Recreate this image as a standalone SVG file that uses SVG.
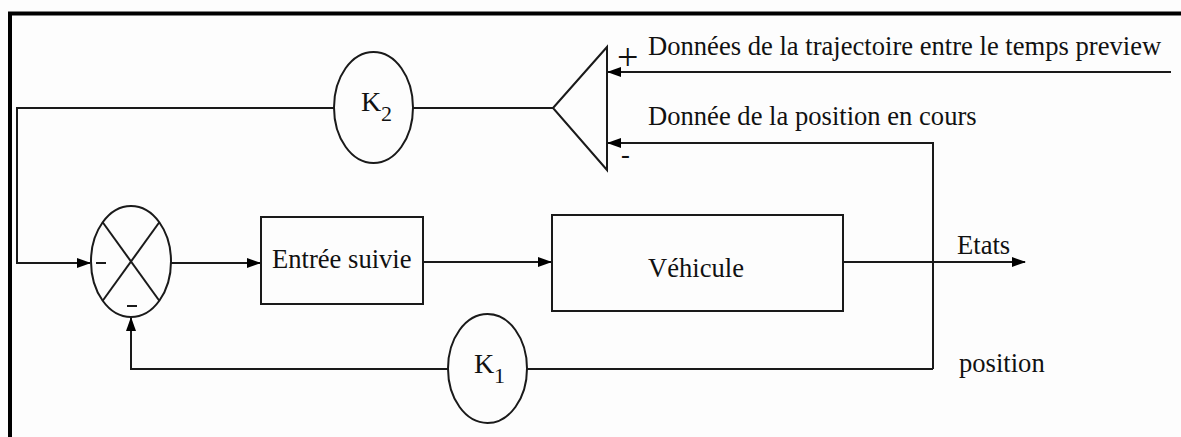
<svg xmlns="http://www.w3.org/2000/svg" width="1181" height="437" viewBox="0 0 1181 437">
<style>
.ln{fill:none;stroke:#1a1a1a;stroke-width:2}
.sh{fill:#fdfdfd;stroke:#1a1a1a;stroke-width:2}
.t{font-family:"Liberation Serif","Times New Roman",serif;font-size:26.6px;fill:#111}
.k{font-family:"Liberation Serif","Times New Roman",serif;font-size:28px;fill:#111}
.s{font-family:"Liberation Serif","Times New Roman",serif;font-size:22px;fill:#111}
</style>
<defs>
<marker id="ah" markerWidth="14" markerHeight="10" refX="13" refY="5" orient="auto" markerUnits="userSpaceOnUse">
<path d="M0,0 L14,5 L0,10 Z" fill="#000"/>
</marker>
</defs>
<rect width="1181" height="437" fill="#fdfdfd"/>
<g id="frame">
<line x1="8" y1="13.5" x2="1181" y2="13.5" stroke="#000" stroke-width="4"/>
<line x1="10" y1="12" x2="10" y2="437" stroke="#000" stroke-width="4"/>
</g>
<g id="connectors">
<polyline class="ln" points="334,108 17,108 17,263 90,263" marker-end="url(#ah)"/>
<line class="ln" x1="413" y1="108" x2="553" y2="108"/>
<line class="ln" x1="1171" y1="72" x2="608" y2="72" marker-end="url(#ah)"/>
<polyline class="ln" points="843,262 933,262 1025,262" marker-end="url(#ah)"/>
<polyline class="ln" points="933,369 933,143 608,143" marker-end="url(#ah)"/>
<line class="ln" x1="171" y1="263" x2="260" y2="263" marker-end="url(#ah)"/>
<line class="ln" x1="423" y1="262" x2="551" y2="262" marker-end="url(#ah)"/>
<line class="ln" x1="933" y1="369" x2="527" y2="369"/>
<polyline class="ln" points="448,369 131,369 131,318" marker-end="url(#ah)"/>
</g>
<g id="k2">
<ellipse class="sh" cx="373.5" cy="107.5" rx="39.5" ry="55.5"/>
<text class="k" x="361" y="111">K</text><text class="s" x="381" y="121">2</text>
</g>
<g id="comparator">
<polygon class="sh" points="553,108 607,47 607,170"/>
<text class="t" x="617" y="70" style="font-size:38px">+</text>
<text class="t" x="621" y="163">-</text>
</g>
<g id="sum">
<ellipse class="sh" cx="131" cy="261.5" rx="40" ry="55.5"/>
<line class="ln" x1="102.5" y1="222" x2="159.5" y2="301"/>
<line class="ln" x1="159.5" y1="222" x2="102.5" y2="301"/>
<line class="ln" x1="96" y1="263" x2="106" y2="263"/>
<line class="ln" x1="127" y1="306" x2="137" y2="306"/>
</g>
<g id="entree">
<rect class="sh" x="261" y="217" width="162" height="87"/>
<text class="t" x="272" y="268">Entrée suivie</text>
</g>
<g id="vehicule">
<rect class="sh" x="552" y="215" width="291" height="96"/>
<text class="t" x="648" y="277">Véhicule</text>
</g>
<g id="k1">
<ellipse class="sh" cx="487.5" cy="368.5" rx="39.5" ry="54.5"/>
<text class="k" x="474" y="373">K</text><text class="s" x="494" y="383">1</text>
</g>
<g id="labels">
<text class="t" x="648" y="55">Données de la trajectoire entre le temps preview</text>
<text class="t" x="648" y="125">Donnée de la position en cours</text>
<text class="t" x="957" y="254">Etats</text>
<text class="t" x="959" y="372">position</text>
</g>
</svg>
